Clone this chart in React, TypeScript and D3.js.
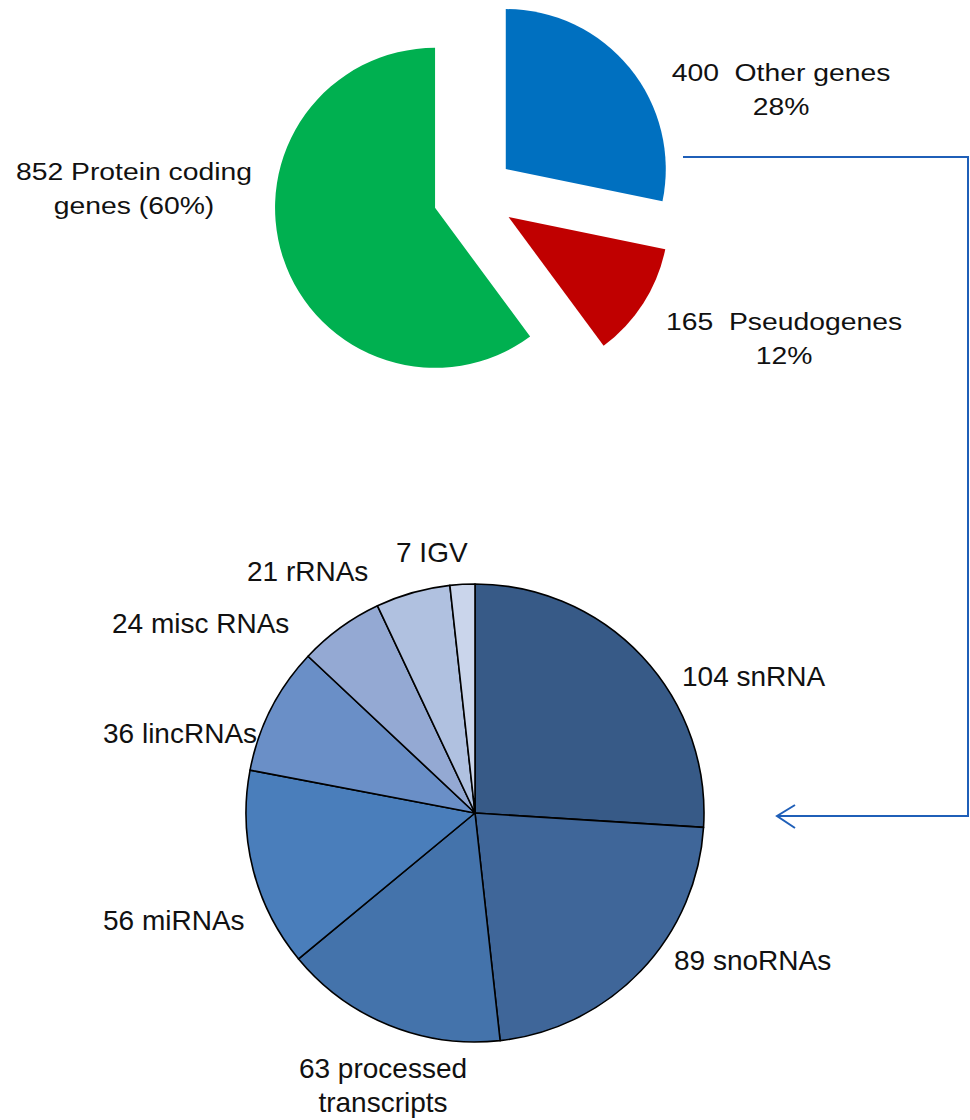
import React from "react";
import * as d3 from "d3";

// top pie: gene classes
const geneClasses = ["Other genes", "Pseudogenes", "Protein coding"];
const geneCounts = [400, 165, 852];
const geneColors = ["#0070C0", "#C00000", "#00B050"];

// bottom pie: breakdown of the "other genes"
const otherTypes = ["snRNA", "snoRNAs", "processed transcripts", "miRNAs", "lincRNAs", "misc RNAs", "rRNAs", "IGV"];
const otherCounts = [104, 89, 63, 56, 36, 24, 21, 7];
const otherColors = ["#375A87", "#3F6699", "#4473AB", "#4A7EBB", "#6A8FC7", "#94A9D3", "#B0C1E0", "#CAD5EB"];

// label text lines
const topLabels = [
  { lines: ["400  Other genes", "28%"], x: 781, y: 81 },
  { lines: ["165  Pseudogenes", "12%"], x: 784, y: 330 },
  { lines: ["852 Protein coding", "genes (60%)"], x: 134, y: 180 },
];
const bottomLabels = [
  { lines: ["104 snRNA"], x: 682, y: 686, anchor: "start" },
  { lines: ["89 snoRNAs"], x: 674, y: 970, anchor: "start" },
  { lines: ["63 processed", "transcripts"], x: 383, y: 1078, anchor: "middle" },
  { lines: ["56 miRNAs"], x: 103, y: 930, anchor: "start" },
  { lines: ["36 lincRNAs"], x: 103, y: 743, anchor: "start" },
  { lines: ["24 misc RNAs"], x: 112, y: 633, anchor: "start" },
  { lines: ["21 rRNAs"], x: 247, y: 581, anchor: "start" },
  { lines: ["7 IGV"], x: 396, y: 562, anchor: "start" },
];

const font = "'Liberation Sans', Arial, sans-serif";

export default function App() {
  const width = 970;
  const height = 1120;

  const top = { cx: 474, cy: 195, r: 160, explode: 41 };
  const bottom = { cx: 475, cy: 813, r: 229 };

  const pie = d3.pie<number>().sort(null).value((d) => d);
  const topArcs = pie(geneCounts);
  const bottomArcs = pie(otherCounts);

  const topArc = d3.arc<d3.PieArcDatum<number>>().innerRadius(0).outerRadius(top.r);
  const bottomArc = d3.arc<d3.PieArcDatum<number>>().innerRadius(0).outerRadius(bottom.r);

  const arrowColor = "#1F5FB8";

  return (
    <div style={{ position: "absolute", left: 0, top: 0 }}>
      <svg width={width} height={height} style={{ display: "block", background: "#fff" }}>
        {/* exploded top pie */}
        <g transform={`translate(${top.cx},${top.cy})`}>
          {topArcs.map((a, i) => {
            const mid = (a.startAngle + a.endAngle) / 2;
            const dx = Math.sin(mid) * top.explode;
            const dy = -Math.cos(mid) * top.explode;
            return (
              <path
                key={geneClasses[i]}
                d={topArc(a) || ""}
                transform={`translate(${dx},${dy})`}
                fill={geneColors[i]}
              />
            );
          })}
        </g>

        {topLabels.map((l, i) => (
          <g key={i} transform={`translate(${l.x},${l.y}) scale(1.18,1)`}>
            {l.lines.map((t, j) => (
              <text
                key={j}
                x={0}
                y={j * 34}
                textAnchor="middle"
                fontFamily={font}
                fontSize={24}
                fill="#111"
                style={{ whiteSpace: "pre" }}
              >
                {t}
              </text>
            ))}
          </g>
        ))}

        {/* connector arrow */}
        <path
          d="M683,157 H968 V816 H777"
          fill="none"
          stroke={arrowColor}
          strokeWidth={2}
        />
        <path d="M795,805 L777,816 L795,828" fill="none" stroke={arrowColor} strokeWidth={2} />

        {/* bottom pie */}
        <g transform={`translate(${bottom.cx},${bottom.cy})`}>
          {bottomArcs.map((a, i) => (
            <path
              key={otherTypes[i]}
              d={bottomArc(a) || ""}
              fill={otherColors[i]}
              stroke="#000"
              strokeWidth={1.6}
              strokeLinejoin="round"
            />
          ))}
        </g>

        {bottomLabels.map((l, i) => (
          <text
            key={i}
            x={l.x}
            y={l.y}
            textAnchor={l.anchor}
            fontFamily={font}
            fontSize={28}
            fill="#111"
          >
            {l.lines.map((t, j) => (
              <tspan key={j} x={l.x} dy={j === 0 ? 0 : 34}>
                {t}
              </tspan>
            ))}
          </text>
        ))}
      </svg>
    </div>
  );
}
